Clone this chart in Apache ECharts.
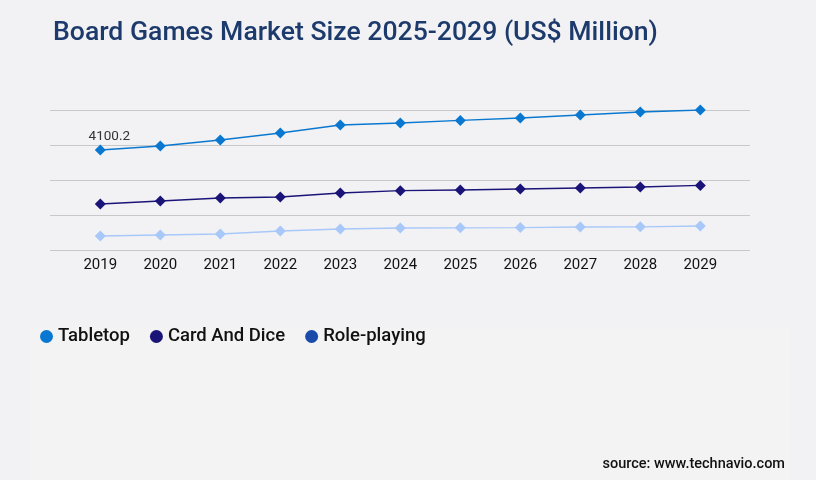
<!DOCTYPE html>
<html>
<head>
<meta charset="utf-8">
<script src="https://cdn.jsdelivr.net/npm/echarts@6/dist/echarts.min.js"></script>
<style>
  html, body { margin: 0; padding: 0; background: #f2f2f4; }
  #chart { width: 816px; height: 480px; }
</style>
</head>
<body>
<div id="chart"></div>
<script>
const years = ["2019", "2020", "2021", "2022", "2023", "2024", "2025", "2026", "2027", "2028", "2029"];
const tabletop = [4100.2, 4264, 4510, 4797, 5125, 5207, 5314, 5412, 5535, 5658, 5740];
const cardAndDice = [1886, 2009, 2132, 2173, 2337, 2431, 2460, 2501, 2542, 2583, 2649];
const rolePlaying = [574, 615, 656, 779, 861, 902, 910, 920, 943, 950, 984];

const chart = echarts.init(document.getElementById("chart"));

// first point of Tabletop carries the value label
const tabletopData = tabletop.map((v, i) =>
  i === 0
    ? { value: v, label: { show: true, position: "top", distance: 1, offset: [9, 0] } }
    : v
);

const yRange = { min: 0, max: 5740, interval: 1435 };

const option = {
  backgroundColor: "#f2f2f4",
  textStyle: { fontFamily: "Roboto" },
  title: {
    text: "Board Games Market Size 2025-2029 (US$ Million)",
    left: 48,
    top: 15,
    textStyle: { color: "#1c3a6b", fontSize: 26.6, fontWeight: 500, fontFamily: "Roboto" },
  },
  graphic: [
    {
      type: "rect",
      z: -10,
      shape: { x: 30, y: 328, width: 760, height: 152 },
      style: { fill: "#f3f3f3" },
      silent: true,
    },
    {
      type: "text",
      right: 31,
      top: 457,
      style: {
        text: "source: www.technavio.com",
        fill: "#111",
        font: "500 14.5px Roboto",
      },
    },
  ],
  legend: {
    left: 35,
    top: 322,
    icon: "circle",
    itemWidth: 13,
    itemHeight: 13,
    itemGap: 20,
    textStyle: { fontSize: 18.5, fontWeight: 500, color: "#111" },
    data: [
      { name: "Tabletop" },
      { name: "Card And Dice" },
      { name: "Role-playing", itemStyle: { color: "#1a4aaa" } },
    ],
  },
  grid: [
    { left: 50, right: 66, top: 110, bottom: 230 },
    { left: 70.3, right: 85.7, top: 110, bottom: 230 },
  ],
  xAxis: [
    { type: "category", gridIndex: 0, data: years, show: false },
    {
      type: "category",
      gridIndex: 1,
      data: years,
      boundaryGap: true,
      axisLine: { show: false },
      axisTick: { show: false },
      axisLabel: { color: "#111", fontSize: 15, margin: 8, fontFamily: "Roboto" },
    },
  ],
  yAxis: [
    {
      type: "value",
      gridIndex: 0,
      ...yRange,
      axisLabel: { show: false },
      axisLine: { show: false },
      axisTick: { show: false },
      splitLine: { lineStyle: { color: "#c8c8c8", width: 1 } },
    },
    { type: "value", gridIndex: 1, ...yRange, show: false, splitLine: { show: false } },
  ],
  series: [
    {
      name: "Tabletop",
      type: "line",
      xAxisIndex: 1,
      yAxisIndex: 1,
      data: tabletopData,
      symbol: "diamond",
      symbolSize: 11,
      color: "#0a78d0",
      lineStyle: { width: 1.3 },
      label: { color: "#333", fontSize: 13.5 },
    },
    {
      name: "Card And Dice",
      type: "line",
      xAxisIndex: 1,
      yAxisIndex: 1,
      data: cardAndDice,
      symbol: "diamond",
      symbolSize: 11,
      color: "#1b1478",
      lineStyle: { width: 1.3 },
    },
    {
      name: "Role-playing",
      type: "line",
      xAxisIndex: 1,
      yAxisIndex: 1,
      data: rolePlaying,
      symbol: "diamond",
      symbolSize: 11,
      color: "#a8c8fa",
      lineStyle: { width: 1.3 },
    },
  ],
};

chart.setOption(option);
</script>
</body>
</html>
